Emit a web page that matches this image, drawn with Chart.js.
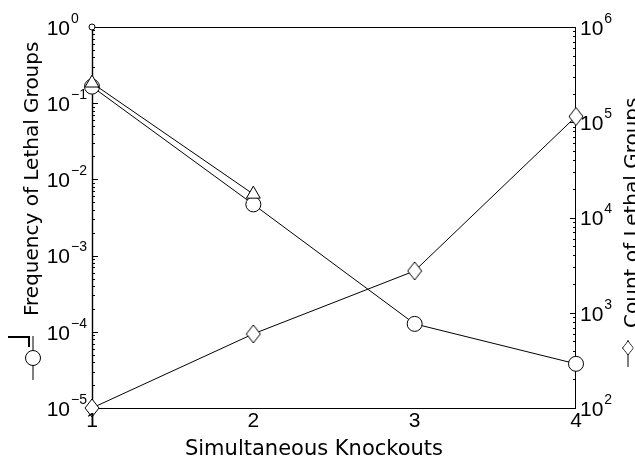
<!DOCTYPE html>
<html><head><meta charset="utf-8">
<script src="https://cdn.jsdelivr.net/npm/chart.js@4/dist/chart.umd.min.js"></script>
<style>html,body{margin:0;padding:0;background:#fff}#wrap{width:635px;height:462px}</style>
</head><body><div id="wrap"><canvas id="c" width="635" height="462"></canvas></div>
<script>
// Number of simultaneous knockouts (x axis)
const knockouts = [1, 2, 3, 4];
// Frequency of lethal groups (left log axis), circles
const lethalFrequency = [0.165, 0.0047, 1.27e-4, 3.8e-5];
// Second frequency estimate (left log axis), triangles
const lethalFrequencyAlt = [0.184, 0.0064];
// Count of lethal groups (right log axis), diamonds
const lethalCount = [100, 600, 2750, 115000];
// Single-knockout reference point on the left axis
const unitFrequency = [1];
// Axis tick values
const freqTicks = [1, 1e-1, 1e-2, 1e-3, 1e-4, 1e-5];
const countTicks = [1e6, 1e5, 1e4, 1e3, 1e2];
const xTicks = [1, 2, 3, 4];

const TICK_FONT = '21px "Liberation Sans", Arial, sans-serif';
const SUP_FONT = '14px "Liberation Sans", Arial, sans-serif';
const TITLE_FONT = '20px "DejaVu Sans", sans-serif';
const XTITLE_FONT = '21px "DejaVu Sans", sans-serif';

function diamondImage(w, h) {
  const cv = document.createElement('canvas');
  cv.width = w + 2; cv.height = h + 2;
  const g = cv.getContext('2d');
  g.beginPath();
  g.moveTo(cv.width / 2, 1);
  g.lineTo(cv.width - 1, cv.height / 2);
  g.lineTo(cv.width / 2, cv.height - 1);
  g.lineTo(1, cv.height / 2);
  g.closePath();
  g.fillStyle = '#fff'; g.fill();
  g.strokeStyle = '#000'; g.lineWidth = 1; g.stroke();
  return cv;
}
const diamond = diamondImage(14, 18);

const pts = (xs, ys) => ys.map((y, i) => ({ x: xs[i], y }));

function sup(ctx, base, exp, x, y, align) {
  ctx.font = TICK_FONT;
  ctx.textBaseline = 'middle';
  const bw = ctx.measureText(base).width;
  const x0 = align === 'right' ? x - bw : x;
  ctx.textAlign = 'left';
  ctx.fillText(base, x0, y + 2);
  ctx.font = SUP_FONT;
  ctx.fillText(exp, x0 + bw + 1, y - 8);
}

const axesPlugin = {
  id: 'axesPlugin',
  beforeDatasetsDraw(chart) {
    const { ctx, chartArea: a, scales } = chart;
    ctx.save();
    ctx.strokeStyle = '#000';
    ctx.lineWidth = 1;
    ctx.strokeRect(a.left + 0.5, a.top + 0.5, a.right - a.left - 1, a.bottom - a.top);
    ctx.lineWidth = 1.4;
    ctx.beginPath(); ctx.moveTo(a.left + 0.5, a.top); ctx.lineTo(a.left + 0.5, a.bottom); ctx.stroke();
    ctx.lineWidth = 1;
    const y = scales.y, y1 = scales.y1;
    ctx.beginPath();
    // left log ticks, pointing into the plot
    for (let d = -5; d <= 0; d++) {
      for (let m = 1; m <= 9; m++) {
        const v = m * Math.pow(10, d);
        if (v > 1.0001) break;
        const py = Math.round(y.getPixelForValue(v)) + 0.5;
        const len = m === 1 ? 6 : 3;
        ctx.moveTo(a.left, py); ctx.lineTo(a.left + len, py);
      }
    }
    // right log ticks
    for (let d = 2; d <= 6; d++) {
      for (let m = 1; m <= 9; m++) {
        const v = m * Math.pow(10, d);
        if (v > 1.0001e6) break;
        const py = Math.round(y1.getPixelForValue(v)) + 0.5;
        const len = m === 1 ? 6 : 3;
        ctx.moveTo(a.right, py); ctx.lineTo(a.right - len, py);
      }
    }
    ctx.stroke();
    ctx.restore();
  },
  afterDraw(chart) {
    const { ctx, chartArea: a, scales } = chart;
    ctx.save();
    ctx.fillStyle = '#000';
    freqTicks.forEach(v => {
      const e = Math.round(Math.log10(v));
      sup(ctx, '10', e === 0 ? '0' : '\u2212' + (-e), a.left - 22, scales.y.getPixelForValue(v), 'right');
    });
    countTicks.forEach(v => {
      const e = Math.round(Math.log10(v));
      sup(ctx, '10', String(e), a.right + 4, scales.y1.getPixelForValue(v), 'left');
    });
    ctx.font = TICK_FONT;
    ctx.textAlign = 'center';
    ctx.textBaseline = 'top';
    xTicks.forEach(v => ctx.fillText(String(v), scales.x.getPixelForValue(v), a.bottom + 3));
    ctx.font = XTITLE_FONT;
    ctx.textBaseline = 'alphabetic';
    ctx.fillText('Simultaneous Knockouts', 314, 455);

    // left title with its circle sample
    ctx.font = TITLE_FONT;
    ctx.save();
    ctx.translate(38, 0);
    ctx.rotate(-Math.PI / 2);
    ctx.textAlign = 'left';
    ctx.fillText('Frequency of Lethal Groups', -316, 0);
    ctx.lineWidth = 1;
    ctx.beginPath(); ctx.moveTo(-380, -5); ctx.lineTo(-336, -5); ctx.stroke();
    ctx.beginPath(); ctx.arc(-358, -5, 7.5, 0, Math.PI * 2);
    ctx.fillStyle = '#fff'; ctx.fill(); ctx.stroke();
    ctx.lineWidth = 2;
    ctx.beginPath(); ctx.moveTo(-337, -30); ctx.lineTo(-337, -9); ctx.lineTo(-347, -9); ctx.stroke();
    ctx.restore();

    // right title with its diamond sample
    ctx.save();
    ctx.translate(638, 0);
    ctx.rotate(-Math.PI / 2);
    ctx.textAlign = 'left';
    ctx.fillStyle = '#000';
    ctx.fillText('Count of Lethal Groups', -328, 0);
    ctx.lineWidth = 1;
    ctx.beginPath(); ctx.moveTo(-367, -10); ctx.lineTo(-340, -10); ctx.stroke();
    ctx.beginPath(); ctx.moveTo(-348, -10); ctx.lineTo(-348, -16); ctx.stroke();
    ctx.drawImage(diamond, -348 - 8, -10 - 6, 16, 12);
    ctx.restore();
    ctx.restore();
  }
};

new Chart(document.getElementById('c'), {
  type: 'scatter',
  data: {
    datasets: [
      {
        data: pts(knockouts, unitFrequency), yAxisID: 'y',
        pointStyle: 'circle', pointRadius: 3, backgroundColor: '#fff', borderColor: '#000', borderWidth: 1,
        showLine: false, clip: false
      },
      {
        data: pts(knockouts, lethalFrequencyAlt), yAxisID: 'y',
        pointStyle: 'triangle', pointRadius: 8, backgroundColor: '#fff', borderColor: '#000', borderWidth: 1,
        showLine: true, clip: false
      },
      {
        data: pts(knockouts, lethalFrequency), yAxisID: 'y',
        pointStyle: 'circle', pointRadius: 7.5, backgroundColor: '#fff', borderColor: '#000', borderWidth: 1,
        showLine: true, clip: false
      },
      {
        data: pts(knockouts, lethalCount), yAxisID: 'y1',
        pointStyle: diamond, pointRadius: 8, backgroundColor: '#fff', borderColor: '#000', borderWidth: 1,
        showLine: true, clip: false
      }
    ]
  },
  options: {
    responsive: false, animation: false, devicePixelRatio: 1,
    layout: { padding: { left: 92, right: 59, top: 27, bottom: 54 } },
    plugins: { legend: { display: false }, tooltip: { enabled: false } },
    elements: { line: { borderColor: '#000', borderWidth: 1, tension: 0 } },
    scales: {
      x: { type: 'linear', min: 1, max: 4, display: false },
      y: { type: 'logarithmic', min: 1e-5, max: 1, display: false },
      y1: { type: 'logarithmic', min: 1e2, max: 1e6, display: false, position: 'right' }
    }
  },
  plugins: [axesPlugin]
});
</script>
</body></html>
